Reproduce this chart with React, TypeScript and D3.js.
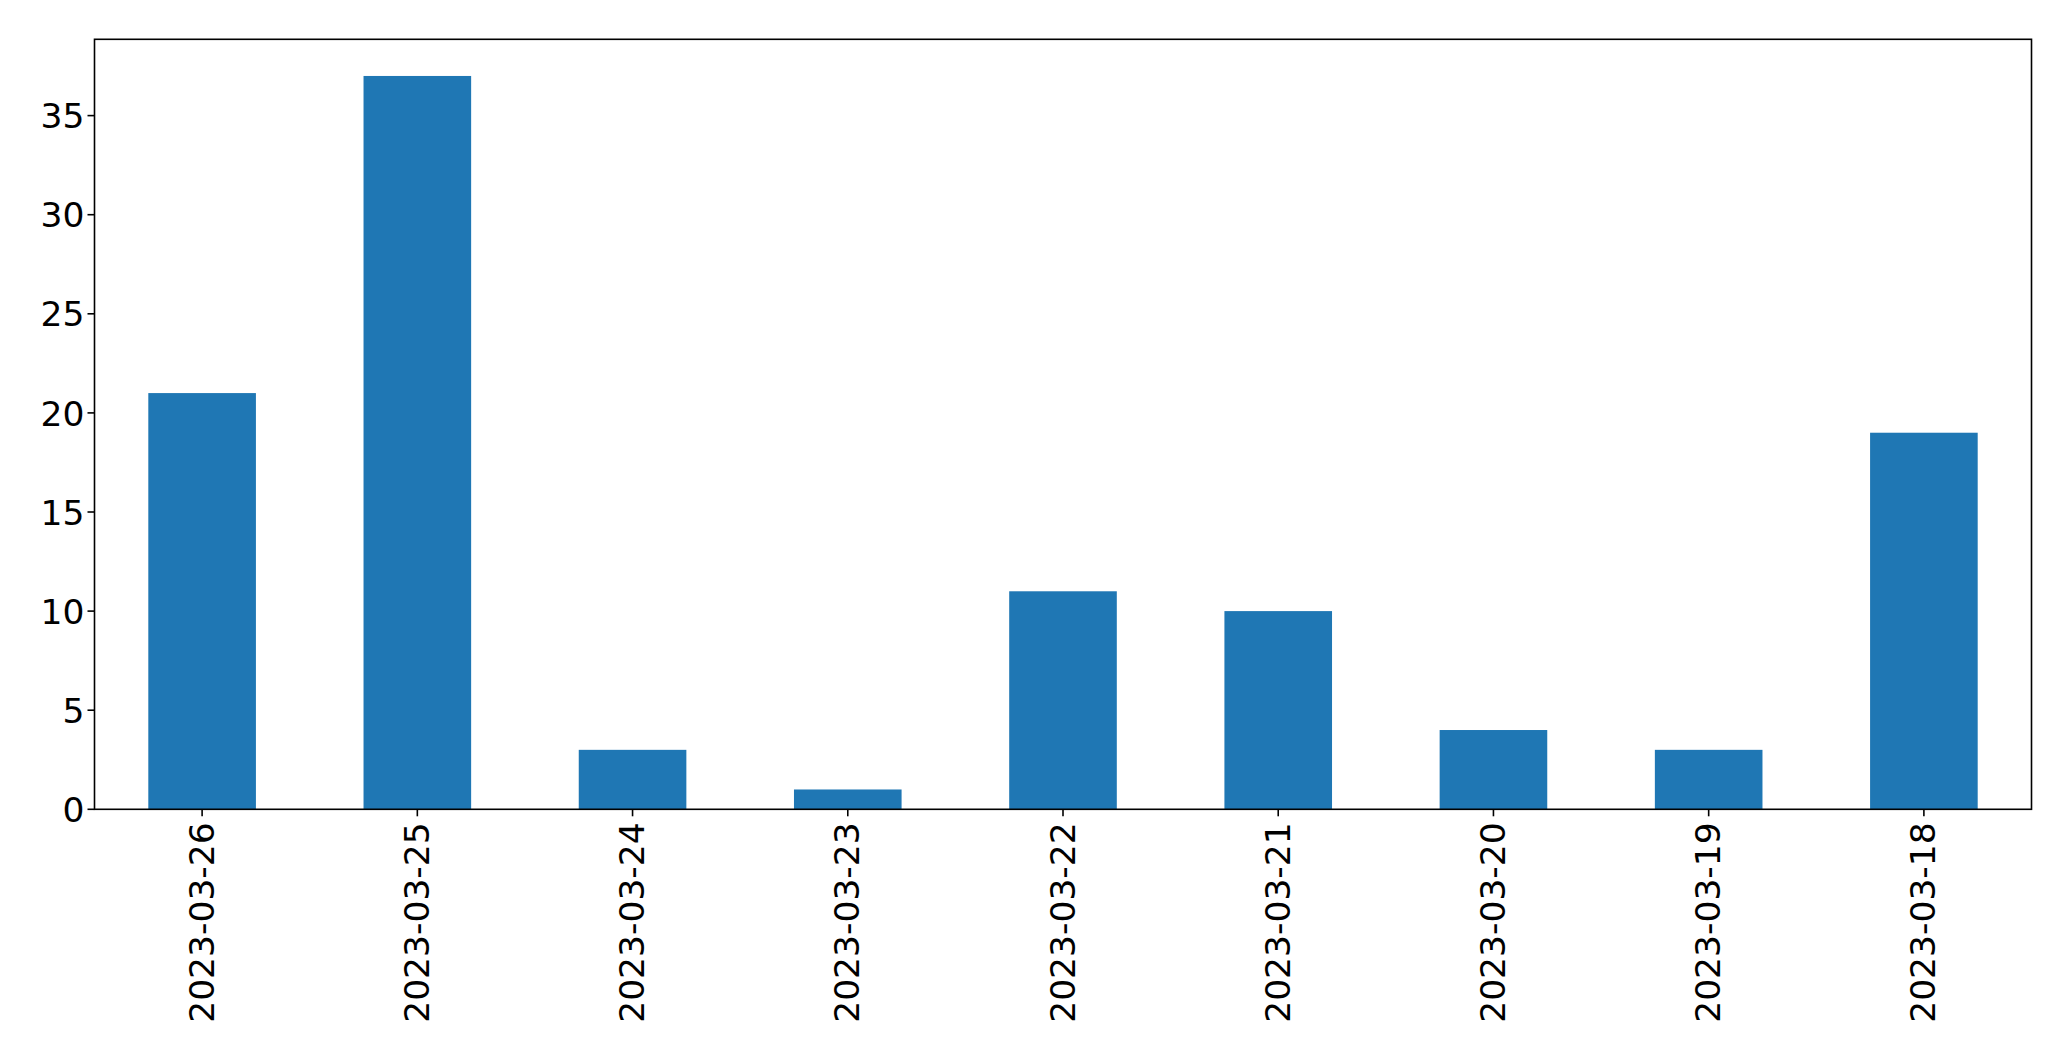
import React from "react";
import * as d3 from "d3";

const categories = ["2023-03-26", "2023-03-25", "2023-03-24", "2023-03-23", "2023-03-22", "2023-03-21", "2023-03-20", "2023-03-19", "2023-03-18"];
const values = [21, 37, 3, 1, 11, 10, 4, 3, 19];
const yTicks = [0, 5, 10, 15, 20, 25, 30, 35];

const W = 2071;
const H = 1061;
const left = 94.5;
const right = 2031.5;
const top = 39.3;
const bottom = 809.3;
const font = "'DejaVu Sans', sans-serif";
const fs = 34.5;

export default function App() {
  const x = d3.scaleBand<string>().domain(categories).range([left, right]).paddingInner(0).paddingOuter(0);
  const bw = x.bandwidth() * 0.5;
  const yMax = d3.max(values)! * 1.05;
  const y = d3.scaleLinear().domain([0, yMax]).range([bottom, top]);
  const tickLen = 7;
  const pad = 6;
  return (
    <svg width={W} height={H} style={{ position: "absolute", left: 0, top: 0, background: "#fff" }} fontFamily={font}>
      <rect x={0} y={0} width={W} height={H} fill="#fff" />
      {categories.map((c, i) => {
        const cx = x(c)! + x.bandwidth() / 2;
        return (
          <rect key={c} x={cx - bw / 2} y={y(values[i])} width={bw} height={bottom - y(values[i])} fill="#1f77b4" />
        );
      })}
      <rect x={left} y={top} width={right - left} height={bottom - top} fill="none" stroke="#000" strokeWidth={1.6} />
      {yTicks.map((t) => (
        <g key={t}>
          <line x1={left - tickLen} x2={left} y1={y(t)} y2={y(t)} stroke="#000" strokeWidth={1.6} />
          <text x={left - tickLen - pad + 3} y={y(t) + 12.6} textAnchor="end" fontSize={fs} fill="#000">
            {t}
          </text>
        </g>
      ))}
      {categories.map((c) => {
        const cx = x(c)! + x.bandwidth() / 2;
        const ty = bottom + tickLen + pad;
        return (
          <g key={c}>
            <line x1={cx} x2={cx} y1={bottom} y2={bottom + tickLen} stroke="#000" strokeWidth={1.6} />
            <text
              transform={`translate(${cx + 11.5},${ty}) rotate(-90)`}
              textAnchor="end"
              fontSize={fs}
              fill="#000"
            >
              {c}
            </text>
          </g>
        );
      })}
    </svg>
  );
}
